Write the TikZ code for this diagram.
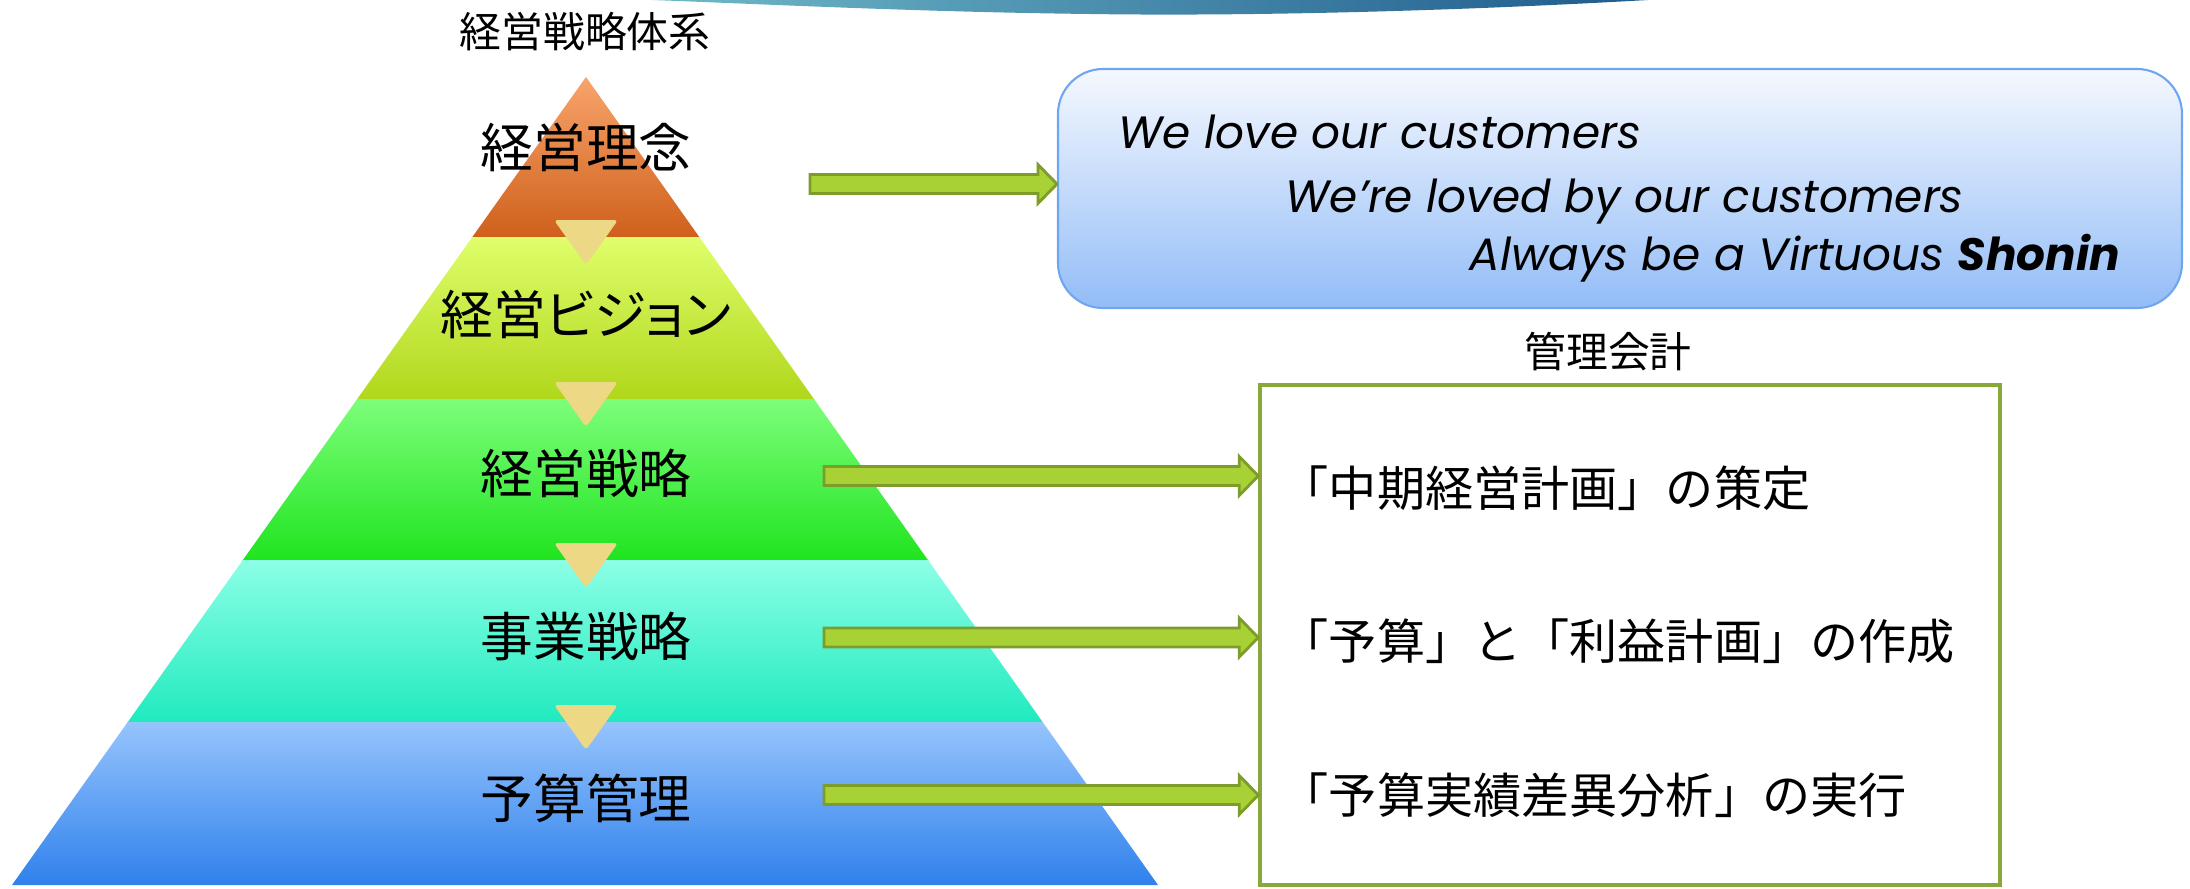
\documentclass[tikz,border=0pt]{standalone}
\usepackage{fontspec}
\setmainfont{Noto Sans CJK JP}
\newfontfamily\mottofont{Poppins}
\usetikzlibrary{calc,positioning}

\definecolor{orTop}{HTML}{F8A46B}
\definecolor{orBot}{HTML}{CF601C}
\definecolor{ygTop}{HTML}{DFFE6A}
\definecolor{ygBot}{HTML}{B0D71C}
\definecolor{grTop}{HTML}{7DFE7A}
\definecolor{grBot}{HTML}{20E420}
\definecolor{tqTop}{HTML}{8CFFE6}
\definecolor{tqBot}{HTML}{20EABF}
\definecolor{blTop}{HTML}{96C4FD}
\definecolor{blBot}{HTML}{2F81EC}
\definecolor{tanTri}{HTML}{EDD886}
\definecolor{arrowFill}{HTML}{A8D135}
\definecolor{arrowDraw}{HTML}{7D9C2A}
\definecolor{boxTop}{HTML}{F5F8FE}
\definecolor{boxBot}{HTML}{93BDF7}
\definecolor{boxDraw}{HTML}{6FA6F0}
\definecolor{mgmtDraw}{HTML}{88A83C}
\definecolor{waveL}{HTML}{6FB8C9}
\definecolor{waveR}{HTML}{1F5B8C}

\tikzset{
  level/.style={font=\fontsize{15}{18}\selectfont, inner sep=0pt},
  caption/.style={font=\fontsize{11.9}{14}\selectfont, inner sep=0pt},
  item/.style={font=\fontsize{13.7}{16}\selectfont, anchor=west, inner sep=0pt},
  motto/.style={font=\mottofont\itshape\fontsize{12.9}{15}\selectfont, anchor=base west, inner sep=0pt},
  greenarrow/.style={fill=arrowFill, draw=arrowDraw, line width=0.8pt, line join=miter},
  downtri/.style={fill=tanTri, rounded corners=1pt}
}

\begin{document}
\begin{tikzpicture}
    \useasboundingbox (0,0) rectangle (21.90,8.88);

    % top swoosh of the slide
    \shade[left color=waveL, right color=waveR] (6.52,8.88) -- (16.48,8.88)
        .. controls (14.2,8.75) and (12.2,8.72) .. (10.9,8.74)
        .. controls (9.2,8.76) and (7.6,8.84) .. (6.52,8.88) -- cycle;

    % pyramid
    \coordinate (apex) at (5.86,8.11);
    \coordinate (bl) at (0.12,0.03);
    \coordinate (br) at (11.58,0.03);
    \begin{scope}
        \clip (apex) -- (bl) -- (br) -- cycle;
        \foreach \yt/\yb/\ct/\cb in {8.11/6.51/orTop/orBot, 6.51/4.89/ygTop/ygBot,
                4.89/3.28/grTop/grBot, 3.28/1.66/tqTop/tqBot, 1.66/0.03/blTop/blBot}
            \shade[top color=\ct, bottom color=\cb] (0,\yb) rectangle (12,\yt);
    \end{scope}
    \foreach \y in {6.51,4.89,3.28,1.66}
        \fill[downtri] (5.54,{\y+0.17}) -- (6.18,{\y+0.17}) -- (5.86,{\y-0.28}) -- cycle;

    \node[caption] (title) at (5.85,8.56) {経営戦略体系};
    \node[level] (l1) at (5.86,7.41) {経営理念};
    \node[level] (l2) at (5.86,5.74) {\addfontfeatures{RawFeature=+palt}経営ビジョン};
    \node[level] (l3) at (5.86,4.15) {経営戦略};
    \node[level] (l4) at (5.86,2.52) {事業戦略};
    \node[level] (l5) at (5.86,0.90) {予算管理};

    % philosophy box
    \node[draw=boxDraw, line width=0.6pt, rounded corners=0.45cm,
          top color=boxTop, bottom color=boxBot,
          minimum width=11.24cm, minimum height=2.39cm] (vbox) at (16.20,6.995) {};
    \node[motto] (v1) at (11.18,7.40) {We love our customers};
    \node[motto] (v2) at (12.85,6.76) {We’re loved by our customers};
    \node[motto] (v3) at (14.69,6.18) {Always be a Virtuous \textbf{Shonin}};

    % management accounting box
    \node[draw=mgmtDraw, line width=1pt, minimum width=7.40cm, minimum height=5.0cm] (mbox) at (16.30,2.53) {};
    \node[caption] (mtitle) at (16.08,5.36) {管理会計};
    \node[item] (m1) at (12.80,4.00) {「中期経営計画」の策定};
    \node[item] (m2) at (12.80,2.47) {「予算」と「利益計画」の作成};
    \node[item] (m3) at (12.80,0.925) {「予算実績差異分析」の実行};

    % arrows
    \coordinate (s1) at (8.10,7.04);
    \coordinate (s2) at (8.24,4.12);
    \coordinate (s3) at (8.24,2.505);
    \coordinate (s4) at (8.24,0.93);
    \coordinate (t1) at (s1 -| vbox.west);
    \coordinate (t2) at (s2 -| mbox.west);
    \coordinate (t3) at (s3 -| mbox.west);
    \coordinate (t4) at (s4 -| mbox.west);
    \foreach \p in {1,...,4}
        \draw[greenarrow] ($(s\p)+(0,0.095)$) -- ($(t\p)+(-0.19,0.095)$) -- ($(t\p)+(-0.19,0.195)$)
            -- (t\p) -- ($(t\p)+(-0.19,-0.195)$) -- ($(t\p)+(-0.19,-0.095)$) -- ($(s\p)+(0,-0.095)$) -- cycle;
\end{tikzpicture}
\end{document}
